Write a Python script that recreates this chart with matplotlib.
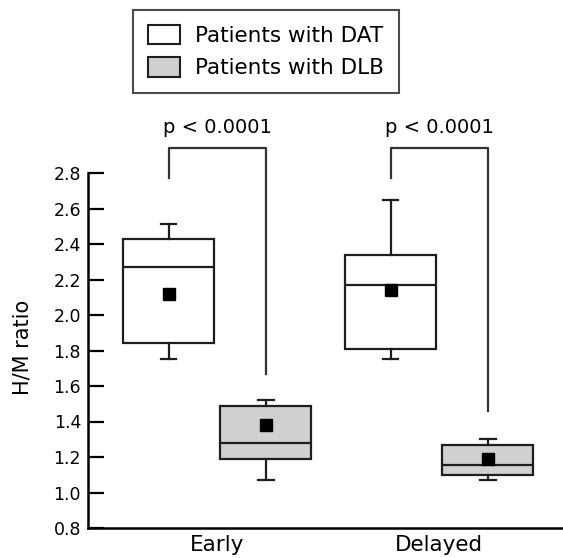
import numpy as np
import matplotlib.pyplot as plt
from matplotlib.patches import Patch

plt.rcParams['font.family'] = ['DejaVu Sans']

# data
phases = ["Early", "Delayed"]
dat_low = [1.75, 1.75]
dat_q1 = [1.84, 1.81]
dat_med = [2.27, 2.17]
dat_q3 = [2.43, 2.34]
dat_high = [2.51, 2.65]
dat_mean = [2.12, 2.14]

dlb_low = [1.07, 1.07]
dlb_q1 = [1.19, 1.10]
dlb_med = [1.28, 1.155]
dlb_q3 = [1.49, 1.27]
dlb_high = [1.52, 1.30]
dlb_mean = [1.38, 1.19]

p_text = ["p < 0.0001", "p < 0.0001"]
bracket_top = 2.94
bracket_left = [2.77, 2.77]
bracket_right = [1.67, 1.46]

GRAY = "#d0d0d0"
EDGE = "#1e1e1e"

fig = plt.figure(figsize=(5.63, 5.58), dpi=100)
ax = fig.add_axes([88/563, 30/558, 475/563, 426/558])

dat_pos = [0, 2.28]
dlb_pos = [1, 3.28]

def make_stats(lo, q1, med, q3, hi, mean):
  res = []
  for i in range(len(lo)):
    res.append(dict(whislo=lo[i], q1=q1[i], med=med[i], q3=q3[i],
                    whishi=hi[i], mean=mean[i], fliers=[]))
  return res

common = dict(widths=0.935, patch_artist=True, showmeans=True, showfliers=False,
              capwidths=0.16,
              whiskerprops=dict(color=EDGE, lw=1.6),
              capprops=dict(color=EDGE, lw=1.6),
              medianprops=dict(color=EDGE, lw=1.6),
              meanprops=dict(marker="s", markerfacecolor="black",
                             markeredgecolor="black", markersize=8.5))

b1 = ax.bxp(make_stats(dat_low, dat_q1, dat_med, dat_q3, dat_high, dat_mean),
            positions=dat_pos, **common)
for box in b1["boxes"]:
  box.set(facecolor="white", edgecolor=EDGE, lw=1.6)
b2 = ax.bxp(make_stats(dlb_low, dlb_q1, dlb_med, dlb_q3, dlb_high, dlb_mean),
            positions=dlb_pos, **common)
for box in b2["boxes"]:
  box.set(facecolor=GRAY, edgecolor=EDGE, lw=1.6)

# significance brackets
for i in range(2):
  x0 = dat_pos[i]
  x1 = dlb_pos[i]
  ax.plot([x0, x0, x1, x1], [bracket_left[i], bracket_top, bracket_top, bracket_right[i]],
          color="#333333", lw=1.6, clip_on=False)
  ax.text((x0 + x1) / 2, 3.055, p_text[i], ha="center", va="center", fontsize=14)

ax.set_xlim(-0.829, 4.052)
ax.set_ylim(0.8, 3.2)
ax.set_yticks(np.arange(0.8, 2.81, 0.2))
ax.set_yticklabels(["%.1f" % v for v in np.arange(0.8, 2.81, 0.2)])
ax.set_xticks([(dat_pos[i] + dlb_pos[i]) / 2 for i in range(2)])
ax.set_xticklabels(phases, fontsize=15.5)
ax.tick_params(axis="y", direction="in", length=11.5, width=1.6, labelsize=12.5, pad=5)
ax.tick_params(axis="x", length=0, pad=5)
ax.spines["top"].set_visible(False)
ax.spines["right"].set_visible(False)
ax.spines["left"].set_bounds(0.8, 2.8)
ax.spines["left"].set_linewidth(1.8)
ax.spines["bottom"].set_linewidth(1.8)
ax.set_ylabel("H/M ratio", fontsize=15)
ax.yaxis.set_label_coords(-56/475, 0.424)

handles = [Patch(facecolor="white", edgecolor=EDGE, lw=1.5),
           Patch(facecolor=GRAY, edgecolor=EDGE, lw=1.5)]
leg = fig.legend(handles, ["Patients with DAT", "Patients with DLB"],
                 loc="upper left", bbox_to_anchor=(133/563, 1 - 10/558),
                 fontsize=15.5, frameon=True, fancybox=False, edgecolor=EDGE,
                 handlelength=1.5, handleheight=1.0, handletextpad=0.7,
                 labelspacing=0.55, borderpad=0.68, borderaxespad=0)
leg.get_frame().set_linewidth(1.5)

plt.savefig("out.png", dpi=100)
